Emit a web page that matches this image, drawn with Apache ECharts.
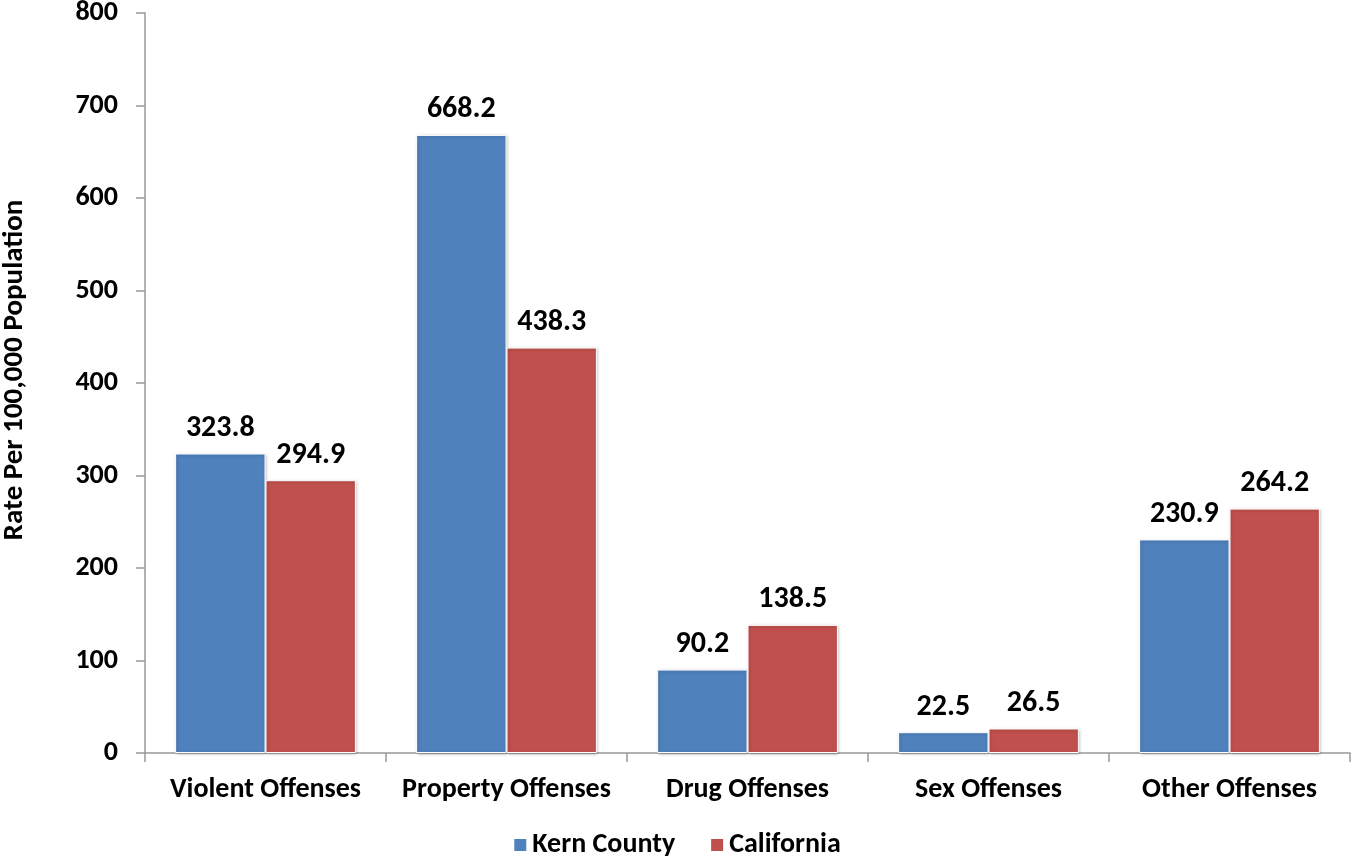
<!DOCTYPE html>
<html><head><meta charset="utf-8">
<script src="https://cdn.jsdelivr.net/npm/echarts@6/dist/echarts.min.js"></script>
<style>html,body{margin:0;padding:0;background:#fff}#c{width:1353px;height:860px}</style>
</head><body><div id="c"></div>
<script>
const categories = ['Violent Offenses','Property Offenses','Drug Offenses','Sex Offenses','Other Offenses'];
const kernCounty = [323.8, 668.2, 90.2, 22.5, 230.9];
const california = [294.9, 438.3, 138.5, 26.5, 264.2];
const seriesNames = ['Kern County','California'];
const yTicks = {min:0, max:800, interval:100};

const font = 'Carlito, Calibri, Lato, "Open Sans", sans-serif';
const chart = echarts.init(document.getElementById('c'), null, {renderer:'canvas'});
const label = {show:true, position:'top', distance:10, fontFamily:font, fontWeight:'bold', fontSize:30, color:'#000', formatter:p=>p.value.toFixed(1)};
const itemBase = {borderColor:'#fff', borderWidth:1, shadowColor:'rgba(0,0,0,0.25)', shadowBlur:3, shadowOffsetX:1, shadowOffsetY:1};
chart.setOption({
  animation:false,
  grid:{left:145, right:3, top:13, bottom:107, containLabel:false, outerBoundsMode:'none'},
  legend:{bottom:-4, left:'center', itemWidth:14, itemHeight:14, itemGap:34,
    textStyle:{fontFamily:font, fontWeight:'bold', fontSize:28, color:'#000'}, icon:'rect',
    data:seriesNames},
  xAxis:{type:'category', data:categories,
    axisLine:{lineStyle:{color:'#999', width:1.5}},
    axisTick:{show:true, interval:0, length:9, lineStyle:{color:'#999', width:1.5}},
    axisLabel:{interval:0, margin:23, fontFamily:font, fontWeight:'bold', fontSize:28, color:'#000'}},
  yAxis:{type:'value', min:yTicks.min, max:yTicks.max, interval:yTicks.interval,
    name:'Rate Per 100,000 Population', nameLocation:'middle', nameGap:116, nameRotate:90,
    nameTextStyle:{fontFamily:font, fontWeight:'bold', fontSize:29, color:'#000', padding:[0,0,0,26]},
    axisLine:{show:true, lineStyle:{color:'#999', width:1.5}},
    axisTick:{show:true, length:9, lineStyle:{color:'#999', width:1.5}},
    splitLine:{show:false},
    axisLabel:{margin:27, fontFamily:font, fontWeight:'bold', fontSize:28, color:'#000'}},
  series:[
    {name:seriesNames[0], type:'bar', data:kernCounty, barWidth:'37.5%', barGap:'0%',
     itemStyle:Object.assign({color:'#4F81BD'}, itemBase), label:label},
    {name:seriesNames[1], type:'bar', data:california, barWidth:'37.5%', barGap:'0%',
     itemStyle:Object.assign({color:'#C0504D'}, itemBase), label:label}
  ]
});
</script></body></html>
